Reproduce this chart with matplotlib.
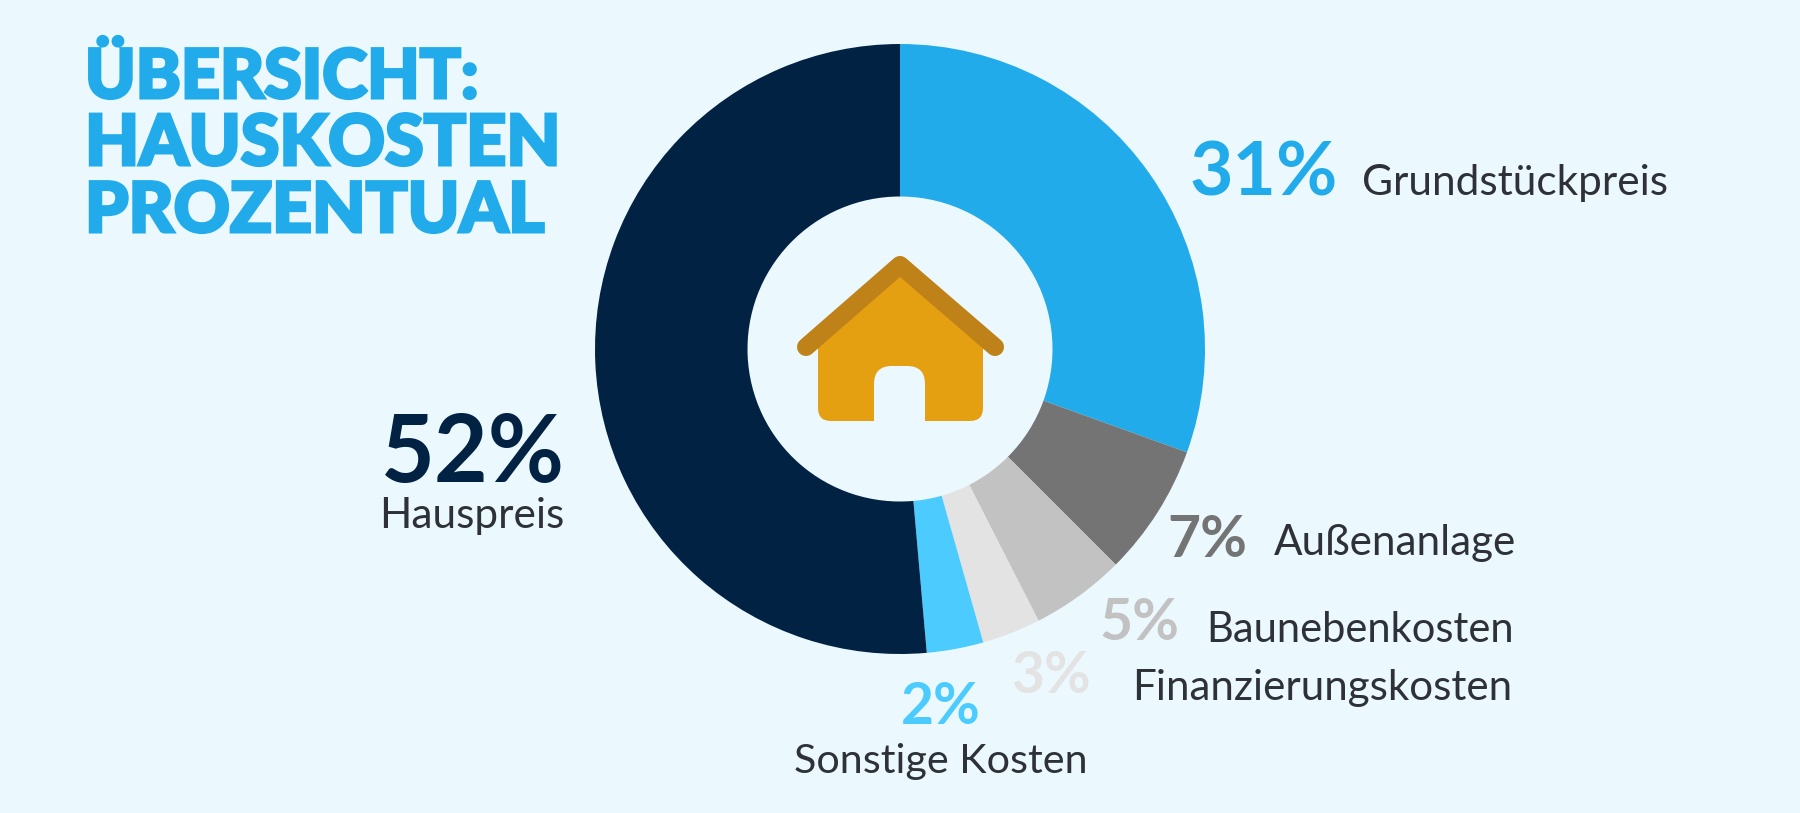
#!/usr/bin/env python3
"""Donut chart of house cost shares (Hauskosten prozentual)."""

import matplotlib

matplotlib.use("Agg")
import matplotlib.patheffects as pe
import matplotlib.pyplot as plt
from matplotlib.patches import FancyBboxPatch, Polygon

# wedge sizes as drawn, clockwise from 12 o'clock
CATEGORIES = ["Grundstückpreis", "Außenanlage", "Baunebenkosten", "Finanzierungskosten", "Sonstige Kosten", "Hauspreis"]
WEDGE_SIZES = [30.5, 7.0, 5.0, 3.1, 3.0, 51.4]
PERCENT_LABELS = ["31%", "7%", "5%", "3%", "2%", "52%"]
COLORS = ["#22ABEB", "#747474", "#C2C2C2", "#E3E3E3", "#4CCBFF", "#022244"]
TITLE_LINES = ["ÜBERSICHT:", "HAUSKOSTEN", "PROZENTUAL"]

BG = "#EBF9FF"
BLUE = "#22ABEB"
W, H = 1800, 813

plt.rcParams["font.family"] = ["Lato", "DejaVu Sans"]

fig = plt.figure(figsize=(W / 100, H / 100), dpi=100, facecolor=BG)

# donut: centre (900, 349), outer radius 305 px
ax = fig.add_axes([595 / W, (H - 654) / H, 610 / W, 610 / H])
ax.pie(WEDGE_SIZES, colors=COLORS, startangle=90, counterclock=False, radius=1,
       wedgeprops={"width": 0.5, "linewidth": 0})
ax.set_xlim(-1, 1)
ax.set_ylim(-1, 1)
ax.axis("off")

# overlay in pixel coordinates for text and house
ov = fig.add_axes([0, 0, 1, 1], facecolor="none")
ov.set_xlim(0, W)
ov.set_ylim(H, 0)
ov.axis("off")

# house icon
HOUSE = "#E5A012"
ROOF = "#BF8218"
ov.add_patch(FancyBboxPatch((818, 330), 165, 91, boxstyle="round,pad=0,rounding_size=13",
                            fc=HOUSE, ec="none"))
ov.add_patch(Polygon([(818, 345), (900, 272), (983, 345), (983, 370), (818, 370)], fc=HOUSE, ec="none"))
ov.add_patch(FancyBboxPatch((874, 366), 51, 70, boxstyle="round,pad=0,rounding_size=18",
                            fc=BG, ec="none"))
ov.add_patch(Polygon([(860, 421.5), (940, 421.5), (940, 440), (860, 440)], fc=BG, ec="none"))
ov.plot([806, 900, 995], [347, 265, 347], color=ROOF, lw=13,
        solid_capstyle="round", solid_joinstyle="round")

# title, stroked to get the heavy look of the original
TITLE_SIZES = [49, 50.5, 50]
for line, y, fs in zip(TITLE_LINES, [98, 165, 232], TITLE_SIZES):
    ov.text(85, y, line, color=BLUE, fontsize=fs, fontweight=900, va="baseline", ha="left",
            path_effects=[pe.withStroke(linewidth=2.2, foreground=BLUE, joinstyle="miter")])

# percent labels: x, baseline, size
PCT_POS = [(1189, 195, 54), (1167, 557, 41), (1099, 640, 41), (1011, 693, 41), (901, 724, 41), (381, 482, 67)]
for pct, col, (x, y, fs) in zip(PERCENT_LABELS, COLORS, PCT_POS):
    ov.text(x, y, pct, color=col, fontsize=fs, fontweight=700, va="baseline", ha="left")

# category labels: x, baseline, size
TEXT_POS = [(1362, 195, 30.5), (1274, 555, 30.4), (1206, 642, 30), (1132, 700, 30.3), (794, 773, 29.7), (379, 528, 30.5)]
for cat, (x, y, fs) in zip(CATEGORIES, TEXT_POS):
    ov.text(x, y, cat, color="#2E3238", fontsize=fs, va="baseline", ha="left")

fig.savefig("out.png", dpi=100, facecolor=BG)
plt.close(fig)
